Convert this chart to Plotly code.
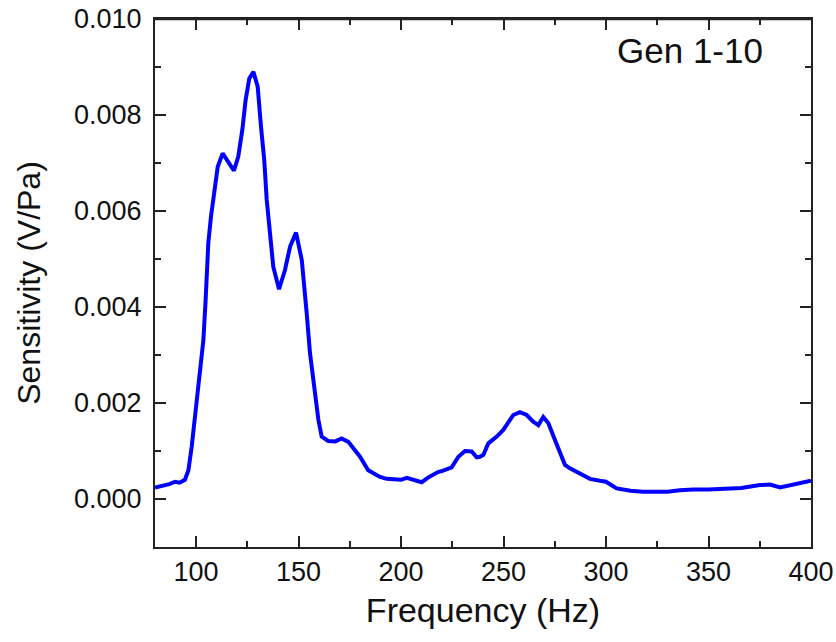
import plotly.graph_objects as go

freq = [80, 84, 87, 89.8, 92, 94.6, 96.3, 97.9, 99.8, 101.6, 103.6, 104.7, 105.2, 106, 107.3,
        108.9, 110.6, 113, 115.5, 118.5, 120.6, 122.6, 124.2, 126, 128, 130.1, 131.7, 133.3,
        134.5, 136.1, 137.7, 140.5, 143.4, 145.9, 148.8, 151.6, 153.2, 154, 155.6, 157.2,
        159.7, 161.3, 164.5, 168, 171, 174.3, 177, 180, 184, 189.8, 193, 197, 200, 202.8,
        205, 208.4, 210.1, 213, 215.8, 218, 220.6, 222.5, 224.7, 228, 231.2, 234.5, 236.9,
        238.5, 240.2, 242.6, 246.7, 249.9, 252.3, 254.8, 258, 261.3, 264.5, 267, 269.4,
        271.9, 275.1, 277.6, 280, 282.4, 284.1, 288.1, 292.2, 297.1, 300, 305.2, 312,
        318, 324.7, 330, 336, 342.6, 350, 358.9, 366, 375.1, 380, 384.9, 388, 392, 396, 399.5, 400]
sens = [0.24, 0.27, 0.31, 0.36, 0.34, 0.40, 0.60, 1.09, 1.79, 2.62, 3.31, 4.15, 4.50, 5.33, 5.88,
        6.44, 6.92, 7.20, 7.05, 6.84, 7.13, 7.69, 8.31, 8.76, 8.90, 8.59, 7.76, 7.06,
        6.23, 5.46, 4.84, 4.37, 4.77, 5.26, 5.55, 4.98, 4.35, 3.87, 3.04, 2.48,
        1.65, 1.30, 1.21, 1.20, 1.26, 1.19, 1.05, 0.88, 0.60, 0.46, 0.42, 0.40, 0.40, 0.44,
        0.41, 0.36, 0.35, 0.44, 0.52, 0.56, 0.59, 0.63, 0.66, 0.88, 1.00, 0.99, 0.87,
        0.88, 0.92, 1.16, 1.30, 1.44, 1.58, 1.75, 1.81, 1.75, 1.61, 1.54, 1.71,
        1.58, 1.23, 0.99, 0.71, 0.64, 0.60, 0.52, 0.42, 0.38, 0.36, 0.22, 0.17,
        0.15, 0.14, 0.15, 0.18, 0.20, 0.20, 0.22, 0.23, 0.29, 0.30, 0.24, 0.27, 0.31, 0.34, 0.38, 0.38]
sens = [v * 0.001 for v in sens]

y_ticks = [0.000, 0.002, 0.004, 0.006, 0.008, 0.010]
y_labels = ["0.000", "0.002", "0.004", "0.006", "0.008", "0.010"]
x_ticks = [100, 150, 200, 250, 300, 350, 400]

fig = go.Figure(go.Scatter(x=freq, y=sens, mode="lines",
                           line=dict(color="#0000FF", width=4)))

font = "Liberation Sans, Arial, sans-serif"
axis_common = dict(showline=True, linecolor="#222222", linewidth=2, mirror="allticks",
                   ticks="inside", ticklen=11, tickwidth=1.5, tickcolor="#222222",
                   showgrid=False, zeroline=False, automargin=False,
                   ticklabeloverflow="allow",
                   tickfont=dict(family=font, size=27, color="#111111"))

fig.update_xaxes(range=[80, 400], tickvals=x_ticks,
                 minor=dict(dtick=25, tick0=0, ticks="inside", ticklen=6, tickwidth=1.5,
                            tickcolor="#222222", showgrid=False),
                 title=dict(text="Frequency (Hz)", font=dict(family=font, size=34, color="#111111"),
                            standoff=12),
                 ticklabelstandoff=0, **axis_common)
fig.update_yaxes(range=[-0.001, 0.010], tickvals=y_ticks, ticktext=y_labels,
                 minor=dict(dtick=0.001, tick0=0, ticks="inside", ticklen=6, tickwidth=1.5,
                            tickcolor="#222222", showgrid=False),
                 title=dict(text="Sensitivity (V/Pa)", font=dict(family=font, size=32, color="#111111"),
                            standoff=24),
                 ticklabelstandoff=6, **axis_common)

# explicit top frame edge
fig.add_shape(type="line", xref="paper", yref="paper", x0=0, x1=1, y0=1, y1=1,
              line=dict(color="#222222", width=2.5), layer="above")

fig.add_annotation(x=0.815, y=0.94, xref="paper", yref="paper", text="Gen 1-10",
                   showarrow=False, font=dict(family=font, size=35, color="#111111"),
                   xanchor="center", yanchor="middle")

fig.update_layout(width=836, height=642, plot_bgcolor="white", paper_bgcolor="white",
                  margin=dict(l=155, r=25, t=19, b=95), showlegend=False)

fig.write_html("out.html", config={"displayModeBar": False},
               post_script="document.body.style.margin='0';document.body.style.overflow='hidden';")
